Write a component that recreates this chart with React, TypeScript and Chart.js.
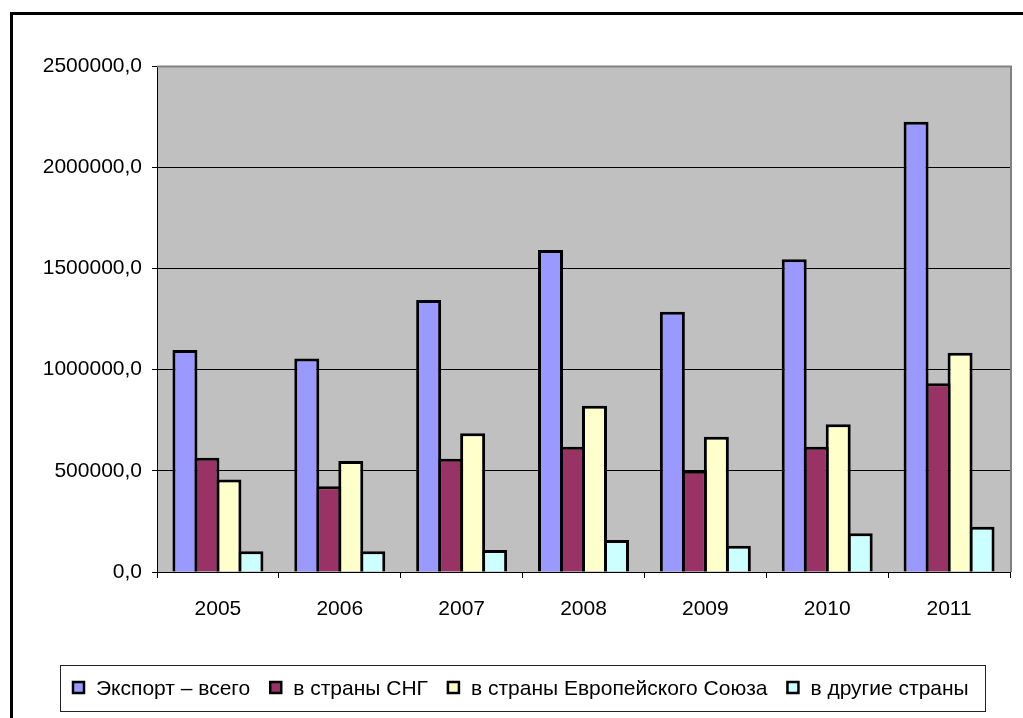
import React, { useEffect, useRef } from "react";
import { Chart, registerables } from "chart.js";

Chart.register(...registerables);

const years = ["2005", "2006", "2007", "2008", "2009", "2010", "2011"];
const seriesNames = [
  "Экспорт – всего",
  "в страны СНГ",
  "в страны Европейского Союза",
  "в другие страны",
];
const exportTotal = [1097000, 1055000, 1344000, 1591000, 1286000, 1545000, 2225000];
const exportCIS = [565000, 424000, 560000, 619000, 500000, 619000, 932000];
const exportEU = [457000, 548000, 685000, 822000, 668000, 730000, 1083000];
const exportOther = [102000, 102000, 109000, 158000, 130000, 191000, 224000];
const seriesColors = ["#9999FF", "#993366", "#FFFFCC", "#CCFFFF"];
const yMin = 0;
const yMax = 2500000;
const yStep = 500000;

const FONT = '"Liberation Sans", Arial, sans-serif';
const FS = 21;

const framePlugin = {
  id: "frame",
  beforeDraw(chart: any) {
    const { ctx, chartArea } = chart;
    ctx.save();
    ctx.fillStyle = "#FFFFFF";
    ctx.fillRect(0, 0, chart.width, chart.height);
    ctx.fillStyle = "#000000";
    ctx.fillRect(10, 12, 3, chart.height - 12);
    ctx.fillRect(10, 12, chart.width - 10, 3);
    ctx.fillStyle = "#C0C0C0";
    ctx.fillRect(chartArea.left, chartArea.top, chartArea.right - chartArea.left, chartArea.bottom - chartArea.top);
    ctx.restore();
  },
  beforeDatasetsDraw(chart: any) {
    const { ctx, chartArea } = chart;
    ctx.save();
    ctx.strokeStyle = "#808080";
    ctx.lineWidth = 2;
    ctx.beginPath();
    ctx.moveTo(chartArea.left, chartArea.top + 0.5);
    ctx.lineTo(chartArea.right + 1, chartArea.top + 0.5);
    ctx.lineTo(chartArea.right + 1, chartArea.bottom);
    ctx.stroke();
    ctx.restore();
  },
  afterDraw(chart: any) {
    const { ctx } = chart;
    ctx.save();
    const bx = 60.5, by = 665.5, bw = 925, bh = 46;
    ctx.strokeStyle = "#222";
    ctx.lineWidth = 1;
    ctx.strokeRect(bx, by, bw, bh);
    ctx.font = FS + "px " + FONT;
    ctx.textBaseline = "middle";
    ctx.textAlign = "left";
    const sq = 11, gapText = 12, gapItem = 20;
    const cy = by + bh / 2;
    let x = 73;
    chart.data.datasets.forEach((d: any) => {
      ctx.fillStyle = d.backgroundColor;
      ctx.fillRect(x, cy - sq / 2 - 1, sq, sq);
      ctx.strokeStyle = "#000";
      ctx.lineWidth = 2.5;
      ctx.strokeRect(x, cy - sq / 2 - 1, sq, sq);
      ctx.fillStyle = "#000";
      const tx = x + sq + gapText;
      ctx.fillText(d.label, tx, cy + 1);
      x = tx + ctx.measureText(d.label).width + gapItem;
    });
    ctx.restore();
  },
};

export default function App() {
  const ref = useRef<HTMLCanvasElement | null>(null);
  useEffect(() => {
    if (!ref.current) return;
    Chart.defaults.font.family = FONT;
    const values = [exportTotal, exportCIS, exportEU, exportOther];
    const chart = new Chart(ref.current, {
      type: "bar",
      data: {
        labels: years,
        datasets: values.map((v, i) => ({
          label: seriesNames[i],
          data: v,
          backgroundColor: seriesColors[i],
          borderColor: "#000000",
          borderWidth: 3,
          borderSkipped: "start",
          categoryPercentage: 0.722,
          barPercentage: 1.136,
        })),
      },
      options: {
        responsive: false,
        animation: false,
        events: [],
        layout: { padding: { left: 0, right: 13, top: 66, bottom: 86 } },
        plugins: { legend: { display: false }, tooltip: { enabled: false } },
        scales: {
          x: {
            afterFit: (s: any) => { s.height = 60; },
            grid: {
              offset: true,
              drawOnChartArea: false,
              drawTicks: true,
              tickLength: 6,
              tickColor: "#000",
              tickWidth: 1,
            },
            border: { color: "#000", width: 1 },
            ticks: { color: "#000", font: { size: FS, family: FONT }, padding: 19 },
          },
          y: {
            min: yMin,
            max: yMax,
            afterFit: (s: any) => { s.width = 157; },
            grid: {
              color: (c: any) => (c.tick && c.tick.value === yMax ? "#808080" : "#000"),
              lineWidth: 1,
              tickLength: 5,
              tickColor: "#000",
            },
            border: { color: "#000", width: 1 },
            ticks: {
              stepSize: yStep,
              color: "#000",
              padding: 10,
              font: { size: FS, family: FONT },
              callback: (v: any) => Number(v).toFixed(1).replace(".", ","),
            },
          },
        },
      },
      plugins: [framePlugin],
    });
    return () => chart.destroy();
  }, []);
  return (
    <div style={{ position: "absolute", left: 0, top: 0, width: 1023, height: 718 }}>
      <canvas ref={ref} width={1023} height={718} style={{ width: 1023, height: 718, display: "block" }} />
    </div>
  );
}
